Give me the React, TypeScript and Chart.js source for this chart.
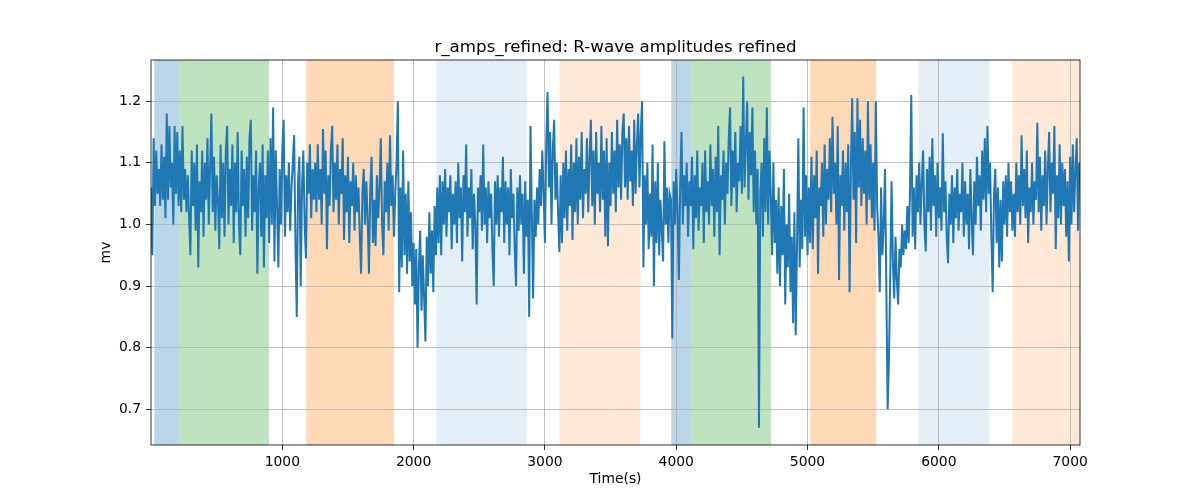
import React, { useEffect, useRef } from "react";
import { Chart, registerables } from "chart.js";

Chart.register(...registerables);

// Sampling of the R-wave amplitude trace (seconds between consecutive samples)
const SAMPLE_STEP = 10;

// R-wave amplitudes (mV)
const amps: number[] = [
  // 0 - 270 s
  1.06, 0.95, 1.14, 1.03, 1.12, 1.05, 1.09, 1.03, 1.13, 1.04,
  1.11, 1.01, 1.18, 1.04, 1.16, 1.06, 1.1, 1.0, 1.16, 1.05,
  1.15, 1.03, 1.12, 1.02, 1.16, 1.04, 1.09, 1.02,
  // 280 - 950 s
  1.08, 1.01, 0.95, 1.12, 1.03, 1.1, 0.99, 1.13, 0.93, 1.07,
  1.02, 1.12, 0.98, 1.1, 1.04, 1.14, 1.0, 1.09, 1.18, 1.02,
  1.11, 0.99, 1.08, 1.04, 0.96, 1.13, 1.01, 1.1, 0.98, 1.12,
  1.16, 1.0, 1.09, 1.03, 1.13, 0.97, 1.1, 1.02, 1.15, 1.0,
  0.95, 1.12, 1.03, 1.09, 0.98, 1.11, 1.01, 1.14, 1.17, 0.99,
  1.08, 1.02, 1.12, 0.92, 1.06, 1.1, 0.98, 1.13, 0.93, 1.08,
  1.01, 1.12, 0.97, 1.14, 1.0, 1.19, 0.94, 1.12,
  // 960 - 1240 s
  1.03, 0.93, 1.09, 1.0, 1.12, 1.17, 0.98, 1.08, 1.02, 1.1,
  0.99, 1.06, 1.1, 1.145, 0.97, 0.85, 1.07, 1.11, 0.9, 1.06,
  1.12, 1.0, 0.945, 1.1, 1.05, 1.13, 1.01, 1.09, 1.04,
  // 1250 - 1850 s
  1.1, 1.02, 1.13, 1.04, 1.09, 1.0, 1.155, 1.05, 1.12, 0.96,
  1.08, 1.03, 1.12, 1.16, 1.02, 1.1, 1.04, 1.13, 1.0, 1.09,
  1.05, 1.14, 0.975, 1.08, 1.02, 1.11, 0.97, 1.07, 1.03, 1.1,
  0.99, 1.08, 1.02, 1.06, 0.98, 0.92, 1.05, 1.09, 1.0, 1.07,
  1.01, 0.92, 1.06, 1.11, 0.97, 1.04, 0.965, 1.08, 1.01, 1.06,
  1.14, 1.0, 0.95, 1.07, 1.02, 1.1, 0.99, 1.145, 1.03, 1.08, 0.98,
  // 1860 - 1970 s
  1.05, 1.1, 1.2, 0.89, 1.06, 0.93, 1.12, 0.95, 1.05, 0.92, 1.07, 0.94,
  // 1980 - 2170 s
  1.02, 0.9, 0.97, 0.87, 0.96, 0.8, 0.93, 0.99, 0.86, 0.95,
  0.88, 0.81, 0.98, 0.9, 1.02, 0.92, 0.99, 0.89, 1.03, 0.95,
  // 2180 - 2880 s
  1.06, 0.97, 1.08, 0.95, 1.07, 1.0, 1.09, 0.98, 1.06, 1.02,
  1.08, 0.96, 1.05, 1.0, 1.07, 0.97, 1.1, 1.01, 1.06, 0.94,
  1.08, 1.02, 1.13, 0.98, 1.06, 1.01, 1.09, 0.96, 1.05, 1.0,
  0.87, 1.06, 1.02, 1.08, 0.99, 1.13, 1.0, 1.06, 0.97, 1.07,
  1.01, 1.05, 0.96, 0.9, 1.07, 1.0, 1.08, 0.98, 1.06, 1.02,
  1.11, 0.97, 1.07, 1.0, 1.06, 0.95, 1.09, 1.01, 1.05, 0.96,
  0.9, 1.06, 0.99, 1.08, 1.0, 1.05, 0.92, 1.07, 0.98, 1.04, 0.85,
  // 2890 - 3110 s
  1.16, 1.02, 0.88, 1.04, 0.98, 1.06, 1.0, 1.09, 1.03, 1.12, 1.05,
  0.97, 1.13, 1.215, 1.06, 1.15, 1.0, 1.12, 1.17, 1.04, 1.1, 1.02, 0.955,
  // 3120 - 3740 s
  1.08, 0.97, 1.1, 1.01, 1.12, 0.99, 1.09, 1.03, 1.13, 0.975,
  1.1, 1.02, 1.14, 1.0, 1.11, 1.04, 1.15, 1.01, 1.09, 1.05,
  1.14, 1.02, 1.11, 1.17, 1.03, 1.12, 1.0, 1.15, 1.05, 1.1,
  1.02, 1.16, 1.04, 1.12, 0.98, 1.14, 0.965, 1.1, 1.03, 1.15,
  1.05, 1.12, 1.02, 1.17, 1.06, 1.13, 1.04, 1.15, 1.18, 1.06,
  1.14, 1.04, 1.16, 1.07, 1.12, 1.03, 1.17, 1.05, 1.13, 1.18, 1.06, 1.15, 1.2,
  // 3750 - 3950 s
  0.93, 1.08, 1.0, 1.1, 0.96, 1.05, 0.98, 1.13, 0.9, 1.07, 0.97,
  1.1, 0.95, 1.04, 0.99, 0.94, 1.135, 1.0, 1.06, 0.97, 1.05,
  // 3960 - 4100 s
  1.04, 0.815, 1.07, 1.0, 1.09, 1.02, 0.91, 1.06, 1.15, 1.0, 1.08, 1.03, 1.1, 0.98, 1.07,
  // 4110 - 4710 s
  1.03, 1.11, 0.96, 1.08, 1.01, 1.12, 0.99, 1.06, 1.03, 1.1,
  0.97, 1.12, 1.02, 1.07, 1.0, 1.13, 1.03, 1.09, 0.98, 1.11,
  1.02, 1.16, 0.95, 1.08, 1.04, 1.12, 1.0, 1.1, 1.05, 1.14,
  1.19, 1.03, 1.12, 1.06, 1.15, 1.02, 1.1, 1.07, 1.16, 1.05,
  1.24, 1.06, 1.13, 1.2, 1.04, 1.15, 1.08, 1.19, 1.02, 1.12,
  1.0, 1.09, 0.67, 1.05, 1.1, 0.98, 1.14, 1.02, 1.19, 1.0, 1.12,
  // 4720 - 5020 s
  1.05, 0.95, 1.1, 0.97, 1.04, 0.92, 1.06, 0.9, 1.03, 0.95,
  1.09, 0.87, 1.0, 0.93, 1.05, 0.89, 0.98, 0.84, 1.02, 0.82,
  0.97, 1.14, 0.93, 1.04, 0.96, 1.19, 0.98, 1.08, 0.95, 1.06, 0.97,
  // 5030 - 5530 s
  1.11, 0.96, 1.08, 1.01, 1.12, 0.92, 1.06, 1.03, 1.1, 0.98,
  1.13, 1.0, 1.09, 1.04, 1.14, 1.02, 1.175, 1.05, 1.1, 1.0,
  1.16, 0.91, 1.08, 1.03, 1.12, 0.99, 1.1, 1.02, 1.13, 0.89,
  1.09, 1.205, 1.04, 1.15, 0.97, 1.205, 1.06, 1.17, 1.03, 1.14, 1.05,
  1.12, 1.0, 1.2, 1.04, 1.13, 1.01, 1.1, 0.99, 1.2, 1.03,
  // 5540 - 5860 s
  0.98, 0.89, 1.06, 0.95, 1.0, 1.09, 0.9, 0.7, 0.78, 0.92, 1.07,
  0.94, 0.88, 0.98, 0.91, 0.87, 0.96, 0.93, 1.0, 0.95, 0.99, 0.96,
  1.03, 0.97, 1.05, 1.21, 0.98, 1.06, 0.96, 1.08, 1.02, 1.1, 1.0,
  // 5870 - 6380 s
  1.07, 1.12, 1.0, 0.956, 1.09, 1.02, 1.11, 0.99, 1.14, 1.03,
  1.08, 0.98, 1.1, 1.01, 1.06, 0.99, 1.148, 1.02, 1.07, 0.98,
  0.937, 1.05, 1.0, 1.08, 0.97, 1.06, 1.01, 1.09, 0.99, 1.05,
  1.02, 1.1, 0.98, 1.07, 1.0, 1.05, 0.96, 1.09, 1.01, 0.95,
  1.07, 1.0, 1.11, 1.03, 1.08, 0.99, 1.12, 1.04, 1.14, 1.02, 1.16, 1.05,
  // 6390 - 6560 s
  1.1, 0.98, 0.89, 1.05, 1.09, 0.97, 1.06, 0.93, 1.04, 0.94, 1.07, 1.0, 1.08, 0.98, 1.1, 1.02, 1.07, 0.99,
  // 6570 - 7070 s
  1.05, 0.98, 1.1, 1.02, 1.08, 1.0, 1.145, 1.03, 1.09, 1.01,
  1.12, 0.97, 1.06, 1.02, 1.1, 1.0, 1.07, 1.04, 1.165, 1.02,
  1.11, 0.99, 1.08, 1.03, 1.12, 1.0, 1.09, 1.15, 1.02, 1.1,
  1.05, 1.16, 0.96, 1.08, 1.01, 1.13, 1.0, 1.1, 1.03, 1.09,
  0.98, 1.07, 0.94, 1.11, 1.0, 1.13, 1.02, 1.09, 1.14, 0.99, 1.1,
];

// Shaded activity periods (seconds)
const spanStarts: number[] = [25, 218, 1183, 2173, 3110, 3962, 4113, 5021, 5844, 6560];
const spanEnds: number[] = [218, 899, 1851, 2864, 3727, 4113, 4722, 5524, 6385, 7075];
const spanColors: string[] = [
  "rgba(31,119,180,0.3)",
  "rgba(44,160,44,0.3)",
  "rgba(255,127,14,0.3)",
  "rgba(31,119,180,0.12)",
  "rgba(255,127,14,0.17)",
  "rgba(31,119,180,0.3)",
  "rgba(44,160,44,0.3)",
  "rgba(255,127,14,0.3)",
  "rgba(31,119,180,0.12)",
  "rgba(255,127,14,0.17)",
];

const xTicks: number[] = [1000, 2000, 3000, 4000, 5000, 6000, 7000];
const yTicks: number[] = [0.7, 0.8, 0.9, 1.0, 1.1, 1.2];

const TITLE = "r_amps_refined: R-wave amplitudes refined";
const X_LABEL = "Time(s)";
const Y_LABEL = "mv";

const FONT = "'DejaVu Sans', sans-serif";

export default function App() {
  const ref = useRef<HTMLCanvasElement | null>(null);

  useEffect(() => {
    if (!ref.current) return;
    const points = amps.map((v, i) => ({ x: i * SAMPLE_STEP, y: v }));

    const decor = {
      id: "decor",
      beforeDraw(chart: any) {
        const { ctx, chartArea: a, scales } = chart;
        ctx.save();
        ctx.beginPath();
        ctx.rect(a.left, a.top, a.right - a.left, a.bottom - a.top);
        ctx.clip();
        for (let i = 0; i < spanStarts.length; i++) {
          const x0 = scales.x.getPixelForValue(spanStarts[i]);
          const x1 = scales.x.getPixelForValue(spanEnds[i]);
          ctx.fillStyle = spanColors[i];
          ctx.fillRect(x0, a.top, x1 - x0, a.bottom - a.top);
        }
        ctx.restore();
      },
      afterDraw(chart: any) {
        const { ctx, chartArea: a } = chart;
        ctx.save();
        ctx.strokeStyle = "#000";
        ctx.lineWidth = 0.8;
        ctx.strokeRect(a.left, a.top, a.right - a.left, a.bottom - a.top);
        ctx.fillStyle = "#000";
        ctx.textAlign = "center";
        ctx.font = `16.7px ${FONT}`;
        ctx.textBaseline = "alphabetic";
        ctx.fillText(TITLE, (a.left + a.right) / 2, 52);
        ctx.font = `13.9px ${FONT}`;
        ctx.textBaseline = "top";
        ctx.fillText(X_LABEL, (a.left + a.right) / 2, 472);
        ctx.translate(106, (a.top + a.bottom) / 2);
        ctx.rotate(-Math.PI / 2);
        ctx.textBaseline = "middle";
        ctx.fillText(Y_LABEL, 0, 0);
        ctx.restore();
      },
    };

    const chart = new Chart(ref.current, {
      type: "line",
      data: {
        datasets: [
          {
            data: points,
            borderColor: "#1f77b4",
            borderWidth: 2,
            pointRadius: 0,
            tension: 0,
            fill: false,
          },
        ],
      },
      options: {
        responsive: false,
        animation: false,
        layout: { padding: { left: 0, top: 60, right: 120, bottom: 0 } },
        plugins: { legend: { display: false }, tooltip: { enabled: false }, title: { display: false } },
        scales: {
          x: {
            type: "linear",
            min: 0,
            max: 7075,
            afterBuildTicks: (s: any) => {
              s.ticks = xTicks.map((v) => ({ value: v }));
            },
            afterFit: (s: any) => {
              s.height = 55;
            },
            grid: { color: "#b0b0b0", lineWidth: 0.8, tickColor: "#000", tickLength: 5, tickWidth: 0.8 },
            border: { display: false },
            ticks: {
              color: "#000",
              padding: 4,
              maxRotation: 0,
              font: { family: FONT, size: 13.9 },
              callback: (v: any) => String(v),
            },
          },
          y: {
            type: "linear",
            min: 0.642,
            max: 1.267,
            afterBuildTicks: (s: any) => {
              s.ticks = yTicks.map((v) => ({ value: v }));
            },
            afterFit: (s: any) => {
              s.width = 151;
            },
            grid: { color: "#b0b0b0", lineWidth: 0.8, tickColor: "#000", tickLength: 5, tickWidth: 0.8 },
            border: { display: false },
            ticks: {
              color: "#000",
              padding: 5,
              font: { family: FONT, size: 13.9 },
              callback: (v: any) => Number(v).toFixed(1),
            },
          },
        },
      },
      plugins: [decor],
    });
    return () => chart.destroy();
  }, []);

  return (
    <div style={{ position: "absolute", left: 0, top: 0, width: 1200, height: 500, background: "#fff" }}>
      <canvas ref={ref} width={1200} height={500} style={{ width: 1200, height: 500 }} />
    </div>
  );
}
